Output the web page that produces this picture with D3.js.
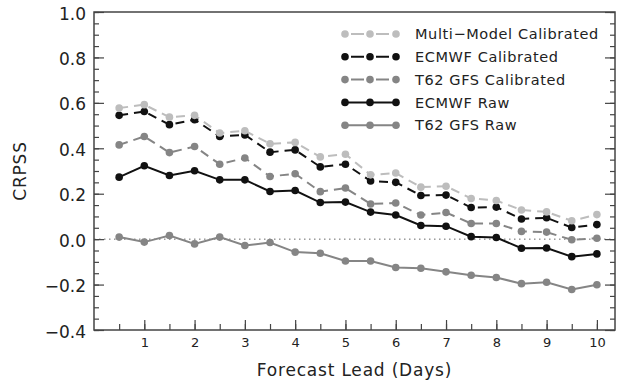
<!DOCTYPE html>
<html>
<head>
<meta charset="utf-8">
<script src="https://cdn.jsdelivr.net/npm/d3@7"></script>
<style>
  body { margin: 0; background: #fff; }
  text { font-family: "DejaVu Sans", sans-serif; fill: #222; }
</style>
</head>
<body>
<div id="chart"></div>
<script>
// lead times (days)
const leads = [0.5, 1, 1.5, 2, 2.5, 3, 3.5, 4, 4.5, 5, 5.5, 6, 6.5, 7, 7.5, 8, 8.5, 9, 9.5, 10];

const multiModelCal = [0.577, 0.592, 0.537, 0.545, 0.467, 0.477, 0.420, 0.426, 0.362, 0.374, 0.283, 0.291, 0.229, 0.233, 0.179, 0.170, 0.128, 0.120, 0.081, 0.108];
const ecmwfCal = [0.545, 0.562, 0.504, 0.526, 0.452, 0.459, 0.383, 0.393, 0.318, 0.330, 0.256, 0.250, 0.192, 0.194, 0.139, 0.141, 0.089, 0.094, 0.051, 0.064];
const gfsCal = [0.415, 0.452, 0.381, 0.408, 0.330, 0.357, 0.276, 0.288, 0.209, 0.225, 0.155, 0.159, 0.106, 0.117, 0.069, 0.069, 0.034, 0.031, -0.003, 0.004];
const ecmwfRaw = [0.273, 0.323, 0.280, 0.301, 0.261, 0.261, 0.210, 0.214, 0.161, 0.163, 0.119, 0.106, 0.060, 0.057, 0.011, 0.007, -0.040, -0.039, -0.077, -0.065];
const gfsRaw = [0.009, -0.013, 0.016, -0.021, 0.009, -0.028, -0.015, -0.057, -0.062, -0.096, -0.096, -0.125, -0.128, -0.144, -0.159, -0.169, -0.196, -0.190, -0.222, -0.201];

const seriesNames = ["Multi\u2212Model Calibrated", "ECMWF Calibrated", "T62 GFS Calibrated", "ECMWF Raw", "T62 GFS Raw"];
const seriesValues = [multiModelCal, ecmwfCal, gfsCal, ecmwfRaw, gfsRaw];
const seriesColors = ["#bdbdbd", "#111111", "#858585", "#111111", "#858585"];
const seriesDashed = [true, true, true, false, false];

const xTickValues = [1, 2, 3, 4, 5, 6, 7, 8, 9, 10];
const yTickValues = [-0.4, -0.2, 0.0, 0.2, 0.4, 0.6, 0.8, 1.0];

const width = 622, height = 384;
const plot = { left: 94, right: 615, top: 12, bottom: 330 };

const svg = d3.select("#chart").append("svg")
  .attr("width", width)
  .attr("height", height);

const x = d3.scaleLinear().domain([0, 10.36]).range([plot.left, plot.right]);
const y = d3.scaleLinear().domain([-0.4, 1.0]).range([plot.bottom, plot.top]);

const axisColor = "#444";

// zero reference line
svg.append("line")
  .attr("x1", plot.left).attr("x2", plot.right)
  .attr("y1", y(0)).attr("y2", y(0))
  .attr("stroke", "#666")
  .attr("stroke-width", 1)
  .attr("stroke-dasharray", "1.5,3.5");

// minor ticks (y every 0.05, x every 0.5)
const yMinor = d3.range(-0.4, 1.0001, 0.05);
const xMinor = d3.range(0.5, 10.01, 0.5);

svg.append("g")
  .attr("transform", `translate(${plot.left},0)`)
  .call(d3.axisLeft(y).tickValues(yMinor).tickSize(-5).tickFormat(""));
svg.append("g")
  .attr("transform", `translate(${plot.right},0)`)
  .call(d3.axisRight(y).tickValues(yMinor).tickSize(-5).tickFormat(""));
svg.append("g")
  .attr("transform", `translate(0,${plot.bottom})`)
  .call(d3.axisBottom(x).tickValues(xMinor).tickSize(-6).tickFormat(""));

// major ticks with labels
const yAxis = svg.append("g")
  .attr("transform", `translate(${plot.left},0)`)
  .call(d3.axisLeft(y).tickValues(yTickValues).tickSize(-10).tickPadding(8).tickFormat(d3.format(".1f")));
yAxis.selectAll("text").style("font-size", "17px").attr("dy", "0.42em");

svg.append("g")
  .attr("transform", `translate(${plot.right},0)`)
  .call(d3.axisRight(y).tickValues(yTickValues).tickSize(-10).tickFormat(""));

const xAxis = svg.append("g")
  .attr("transform", `translate(0,${plot.bottom})`)
  .call(d3.axisBottom(x).tickValues(xTickValues).tickSize(-10).tickPadding(8).tickFormat(d3.format("d")));
xAxis.selectAll("text").style("font-size", "13px");

svg.selectAll(".domain").remove();
svg.selectAll(".tick line").attr("stroke", axisColor).attr("stroke-width", 1.2);

// frame
svg.append("rect")
  .attr("x", plot.left).attr("y", plot.top)
  .attr("width", plot.right - plot.left).attr("height", plot.bottom - plot.top)
  .attr("fill", "none")
  .attr("stroke", axisColor)
  .attr("stroke-width", 1.5);

// series
const line = d3.line()
  .x((d, i) => x(leads[i]))
  .y(d => y(d));

const drawOrder = [4, 3, 2, 1, 0];
drawOrder.forEach(k => {
  const g = svg.append("g");
  g.append("path")
    .datum(seriesValues[k])
    .attr("d", line)
    .attr("fill", "none")
    .attr("stroke", seriesColors[k])
    .attr("stroke-width", 2)
    .attr("stroke-dasharray", seriesDashed[k] ? "9,6" : null);
  g.selectAll("circle")
    .data(seriesValues[k])
    .join("circle")
    .attr("cx", (d, i) => x(leads[i]))
    .attr("cy", d => y(d))
    .attr("r", 3.8)
    .attr("fill", seriesColors[k]);
});

// legend
const legendY0 = 34, legendStep = 22.8;
const legendMarks = [345, 370, 396];
seriesNames.forEach((name, k) => {
  const ly = legendY0 + k * legendStep;
  const g = svg.append("g");
  g.append("line")
    .attr("x1", legendMarks[0]).attr("x2", legendMarks[2])
    .attr("y1", ly).attr("y2", ly)
    .attr("stroke", seriesColors[k])
    .attr("stroke-width", 2)
    .attr("stroke-dasharray", seriesDashed[k] ? "0,6,13,6" : null);
  legendMarks.forEach(mx => {
    g.append("circle")
      .attr("cx", mx).attr("cy", ly).attr("r", 3.8)
      .attr("fill", seriesColors[k]);
  });
  g.append("text")
    .attr("x", 415).attr("y", ly)
    .attr("dy", "0.36em")
    .style("font-size", "14.5px")
    .style("letter-spacing", "0.6px")
    .text(name);
});

// axis titles
svg.append("text")
  .attr("transform", `translate(26,${(plot.top + plot.bottom) / 2}) rotate(-90)`)
  .attr("text-anchor", "middle")
  .style("font-size", "17px")
  .style("letter-spacing", "0.8px")
  .text("CRPSS");

svg.append("text")
  .attr("x", (plot.left + plot.right) / 2)
  .attr("y", 376)
  .attr("text-anchor", "middle")
  .style("font-size", "17px")
  .style("letter-spacing", "0.8px")
  .text("Forecast Lead (Days)");
</script>
</body>
</html>
